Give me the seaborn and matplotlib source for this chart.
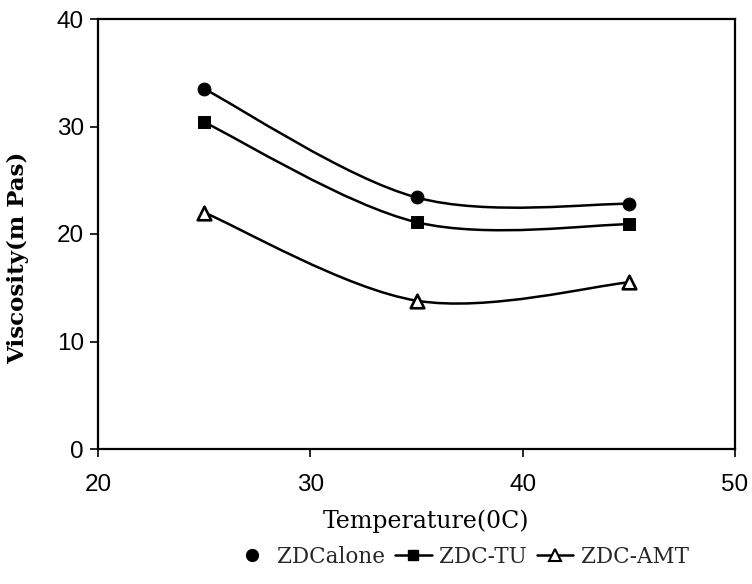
import matplotlib
matplotlib.use("Agg")
import matplotlib.pyplot as plt
from matplotlib.path import Path
from matplotlib.patches import PathPatch
from matplotlib.lines import Line2D
import numpy as np
import pandas as pd
import seaborn as sns

# Viscosity of the coating solutions at three temperatures
temperature = [25, 35, 45]
zdc_alone = [33.5, 23.4, 22.8]
zdc_tu = [30.4, 21.1, 20.9]
zdc_amt = [22.0, 13.8, 15.5]

series_names = ["ZDCalone", "ZDC-TU", "ZDC-AMT"]
x_ticks = [20, 30, 40, 50]
y_ticks = [0, 10, 20, 30, 40]

df = pd.DataFrame({
    "Temperature": temperature * 3,
    "Viscosity": zdc_alone + zdc_tu + zdc_amt,
    "Series": [n for n in series_names for _ in temperature],
})

sns.set_theme(style="white")
plt.rcParams["font.family"] = ["DejaVu Sans"]

W, H = 752, 584
fig = plt.figure(figsize=(W / 100, H / 100), dpi=100)
ax = fig.add_axes([98 / W, 1 - 449 / H, (735 - 98) / W, (449 - 19) / H])


def smooth_path(xs, ys):
    """Cubic Bezier through the points with Catmull-Rom tangents."""
    pts = np.column_stack([xs, ys]).astype(float)
    n = len(pts)
    verts = [pts[0]]
    codes = [Path.MOVETO]
    for i in range(n - 1):
        p0 = pts[i - 1] if i > 0 else pts[i]
        p1 = pts[i]
        p2 = pts[i + 1]
        p3 = pts[i + 2] if i + 2 < n else pts[i + 1]
        c1 = p1 + (p2 - p0) / 6.0
        c2 = p2 - (p3 - p1) / 6.0
        verts += [c1, c2, p2]
        codes += [Path.CURVE4] * 3
    return Path(verts, codes)


for name in series_names:
    sub = df[df["Series"] == name]
    ax.add_patch(PathPatch(smooth_path(sub["Temperature"], sub["Viscosity"]),
                           facecolor="none", edgecolor="black", lw=1.8,
                           zorder=2))

styles = {
    "ZDCalone": dict(marker="o", s=85, color="black", edgecolor="black"),
    "ZDC-TU": dict(marker="s", s=75, color="black", edgecolor="black"),
    "ZDC-AMT": dict(marker="^", s=95, color="white", edgecolor="black",
                    linewidth=1.9),
}
for name in series_names:
    sub = df[df["Series"] == name]
    sns.scatterplot(data=sub, x="Temperature", y="Viscosity", ax=ax,
                    legend=False, zorder=3, **styles[name])

ax.set_xlim(20, 50)
ax.set_ylim(0, 40)
ax.set_xticks(x_ticks)
ax.set_yticks(y_ticks)
for spine in ax.spines.values():
    spine.set_color("black")
    spine.set_linewidth(1.6)
ax.tick_params(axis="both", direction="out", length=6, width=1.2,
               color="black", labelsize=17.5, labelcolor="black",
               bottom=True, left=True)
ax.tick_params(axis="x", pad=12)
ax.tick_params(axis="y", pad=4)
for lab in ax.get_xticklabels() + ax.get_yticklabels():
    lab.set_family("Liberation Sans")

ax.set_xlabel("Temperature(0C)", family="DejaVu Serif", fontsize=17,
              color="black", va="center")
ax.set_ylabel("Viscosity(m Pas)", family="DejaVu Serif", fontsize=16.5,
              fontweight="bold", color="black", va="center")
ax.xaxis.set_label_coords(0.5 + (426 - 416.5) / 637, (449 - 521) / 430)
ax.yaxis.set_label_coords((18 - 98) / 637, 0.5 - (258 - 234) / 430)

handles = [
    Line2D([], [], color="black", lw=0, marker="o", markersize=8.5),
    Line2D([], [], color="black", lw=1.8, marker="s", markersize=7.5),
    Line2D([], [], color="black", lw=1.8, marker="^", markersize=8.5,
           markerfacecolor="white", markeredgewidth=1.5),
]
fig.legend(handles, series_names, loc="center",
           bbox_to_anchor=(461 / W, 1 - 557 / H),
           ncol=3, frameon=False, handlelength=1.7, handletextpad=0.35,
           columnspacing=0.45, prop={"family": "DejaVu Serif", "size": 15.5})

fig.savefig("out.png", dpi=100, facecolor="white")
